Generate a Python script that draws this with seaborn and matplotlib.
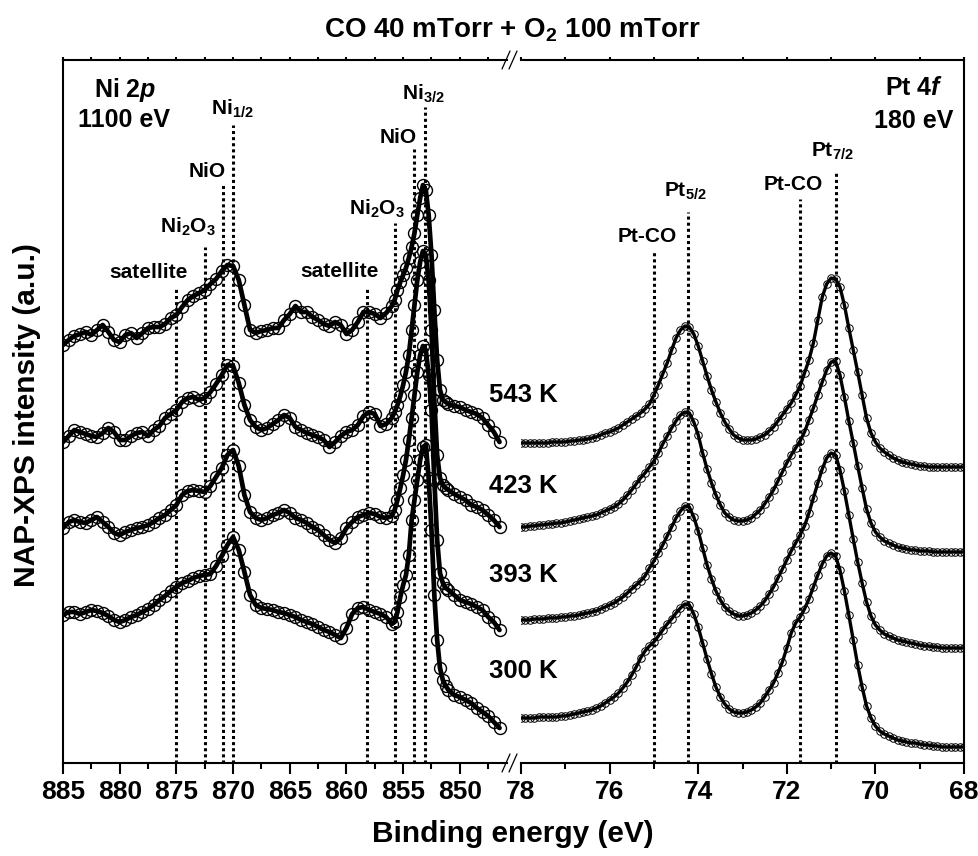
import numpy as np
import pandas as pd
import matplotlib
matplotlib.use("Agg")
import matplotlib.pyplot as plt
import seaborn as sns
from matplotlib.ticker import MultipleLocator
from matplotlib.lines import Line2D

# ---------------- data ----------------
temperatures = ["543 K", "423 K", "393 K", "300 K"]

# Ni 2p binding-energy grid (eV)
ni_energy = np.concatenate([
    np.arange(885.0, 855.9, -0.5),
    np.arange(855.75, 850.9, -0.25),
    np.arange(850.5, 846.4, -0.5),
])

ni_543 = [418, 423, 427, 429, 431, 428, 433, 438, 431, 423, 421, 428, 430, 425, 430, 435, 436, 436, 439, 445,
          448, 456, 463, 467, 470, 473, 479, 484, 492, 498, 497, 483, 458, 433, 430, 432, 433, 435, 435, 443,
          449, 457, 451, 451, 446, 443, 439, 437, 441, 438, 429, 433, 441, 451, 451, 449, 445, 450, 457,
          463, 473, 481, 488, 495, 505, 516, 530, 548, 565, 578, 573, 548, 508, 453, 403, 373, 363, 361, 359,
          357, 356, 353, 351, 349, 345, 338, 331, 321]
ni_423 = [321, 327, 333, 331, 329, 327, 326, 330, 335, 331, 323, 323, 327, 330, 331, 327, 333, 337, 345, 349,
          353, 361, 365, 366, 363, 365, 371, 379, 388, 398, 397, 380, 358, 343, 336, 333, 335, 339, 343, 348,
          345, 336, 333, 330, 328, 326, 323, 316, 321, 327, 331, 333, 338, 347, 351, 349, 337, 339, 345,
          351, 358, 367, 378, 391, 408, 433, 458, 483, 501, 512, 508, 483, 433, 363, 308, 285, 278, 275, 273,
          269, 266, 263, 258, 256, 253, 248, 243, 236]
ni_393 = [235, 241, 243, 241, 240, 243, 246, 241, 236, 230, 228, 231, 233, 235, 236, 238, 241, 245, 248, 253,
          258, 268, 272, 273, 272, 271, 277, 286, 295, 308, 313, 297, 268, 251, 245, 243, 245, 248, 250, 253,
          250, 245, 243, 240, 236, 233, 228, 223, 220, 225, 235, 241, 246, 248, 250, 249, 246, 245, 247,
          253, 263, 275, 288, 303, 323, 345, 368, 391, 408, 417, 413, 388, 353, 283, 223, 190, 180, 175, 173,
          168, 163, 161, 159, 156, 153, 146, 141, 133]
ni_300 = [148, 151, 151, 149, 151, 153, 152, 150, 147, 143, 141, 143, 146, 148, 151, 154, 158, 163, 167, 172,
          176, 180, 182, 185, 187, 188, 189, 197, 207, 218, 226, 213, 191, 168, 158, 155, 154, 153, 151, 150,
          148, 146, 143, 141, 139, 136, 133, 131, 128, 125, 135, 149, 155, 156, 153, 151, 149, 146, 139,
          141, 151, 166, 178, 188, 208, 243, 263, 283, 303, 316, 318, 285, 233, 168, 123, 95, 83, 77, 73,
          68, 66, 63, 60, 55, 51, 47, 41, 35]

# Pt 4f binding-energy grid (eV)
pt_energy = np.round(np.arange(78.0, 67.95, -0.1), 1)

pt_543 = [320, 320, 320, 320, 320, 320, 320, 321, 321, 321, 321,
          322, 322, 323, 323, 324, 325, 326, 328, 330, 331,
          333, 335, 338, 341, 344, 347, 350, 354, 359, 368,
          378, 389, 400, 413, 425, 433, 437, 436, 429, 417,
          402, 387, 373, 361, 350, 341, 334, 328, 325, 323,
          323, 323, 324, 326, 328, 332, 336, 342, 348, 354,
          360, 368, 377, 390, 403, 420, 443, 466, 479, 485,
          484, 476, 458, 435, 413, 391, 368, 345, 330, 321,
          315, 311, 308, 305, 303, 301, 300, 299, 298, 297,
          297, 296, 296, 296, 296, 296, 296, 296, 296, 296]
pt_423 = [236, 236, 237, 237, 238, 238, 239, 239, 240, 240, 241,
          242, 243, 244, 245, 246, 247, 248, 250, 252, 254,
          256, 259, 263, 268, 273, 279, 285, 290, 296, 302,
          310, 319, 327, 335, 342, 348, 351, 350, 341, 328,
          310, 294, 280, 268, 258, 250, 246, 243, 242, 242,
          243, 245, 249, 253, 259, 266, 273, 282, 291, 300,
          308, 315, 322, 331, 343, 355, 368, 381, 393, 401,
          402, 388, 366, 342, 320, 297, 275, 254, 240, 231,
          226, 222, 220, 218, 216, 215, 214, 213, 213, 212,
          212, 212, 211, 211, 211, 211, 211, 211, 211, 211]
pt_393 = [143, 143, 143, 144, 144, 144, 145, 145, 145, 146, 146,
          147, 147, 148, 149, 150, 151, 152, 154, 156, 158,
          160, 163, 166, 170, 174, 178, 182, 187, 195, 202,
          210, 218, 227, 236, 245, 252, 257, 256, 246, 232,
          215, 198, 184, 172, 163, 156, 152, 149, 147, 147,
          148, 150, 153, 157, 162, 169, 176, 185, 194, 203,
          212, 220, 228, 237, 250, 265, 280, 294, 305, 310,
          308, 293, 272, 248, 224, 201, 180, 161, 147, 138,
          133, 129, 127, 125, 123, 122, 121, 120, 119, 118,
          117, 117, 116, 116, 115, 115, 115, 115, 115, 115]
pt_300 = [45, 45, 45, 45, 46, 46, 46, 46, 46, 47, 47,
          48, 49, 50, 51, 52, 53, 55, 57, 60, 63,
          66, 70, 75, 81, 88, 96, 105, 112, 117, 121,
          127, 133, 139, 144, 150, 155, 159, 158, 149, 136,
          120, 104, 89, 76, 66, 59, 54, 51, 50, 50,
          51, 53, 56, 60, 66, 73, 80, 90, 101, 115,
          130, 140, 146, 154, 164, 176, 188, 199, 207, 210,
          207, 193, 172, 148, 123, 98, 76, 57, 45, 37,
          32, 29, 27, 25, 23, 22, 21, 20, 20, 19,
          18, 18, 17, 17, 16, 16, 16, 16, 16, 16]

# reference lines: energy, top of dotted line, label, label x, label baseline
ni_refs_energy = [875.0, 872.5, 870.9, 870.0, 858.2, 855.7, 854.0, 853.1]
ni_refs_top = [475, 516, 578, 638, 476, 540, 614, 656]
ni_labels = ["satellite", "Ni$_2$O$_3$", "NiO", "Ni$_{1/2}$",
             "satellite", "Ni$_2$O$_3$", "NiO", "Ni$_{3/2}$"]
ni_label_x = [877.5, 874.0, 872.25, 870.1, 860.6, 857.3, 855.4, 853.25]
ni_label_y = [485, 530, 586, 648, 486, 548, 620, 663]

pt_refs_energy = [75.0, 74.23, 71.7, 70.9]
pt_refs_top = [511, 551, 564, 591]
pt_labels = ["Pt-CO", "Pt$_{5/2}$", "Pt-CO", "Pt$_{7/2}$"]
pt_label_x = [75.16, 74.28, 71.86, 70.96]
pt_label_y = [521, 566, 573, 606]

temp_label_y = [361, 270, 181, 85]

ni_series = [ni_543, ni_423, ni_393, ni_300]
pt_series = [pt_543, pt_423, pt_393, pt_300]

# ---------------- style ----------------
sns.set_style("ticks")
plt.rcParams["font.family"] = ["Liberation Sans", "DejaVu Sans"]
plt.rcParams["font.weight"] = "bold"
plt.rcParams["mathtext.fontset"] = "custom"
plt.rcParams["mathtext.rm"] = "Liberation Sans:bold"
plt.rcParams["mathtext.bf"] = "Liberation Sans:bold"
plt.rcParams["mathtext.it"] = "Liberation Sans:italic:bold"
plt.rcParams["axes.linewidth"] = 1.5
plt.rcParams["text.color"] = "black"
plt.rcParams["axes.edgecolor"] = "black"
plt.rcParams["axes.labelcolor"] = "black"
plt.rcParams["xtick.color"] = "black"
plt.rcParams["ytick.color"] = "black"

W, H = 979, 856
fig = plt.figure(figsize=(W / 100, H / 100), dpi=100)
fig.patch.set_facecolor("white")

bot = (H - 763) / H
top = (H - 60) / H
ax1 = fig.add_axes([63 / W, bot, 444 / W, top - bot])
ax2 = fig.add_axes([521 / W, bot, 443 / W, top - bot])

for ax in (ax1, ax2):
    ax.set_facecolor("white")
    ax.set_ylim(0, 703)
    ax.set_yticks([])
    ax.tick_params(axis="x", which="major", direction="out", length=8, width=1.5,
                   labelsize=19, pad=4, top=True, colors="black")
    ax.tick_params(axis="x", which="minor", direction="out", length=4.3, width=1.5,
                   top=True, colors="black")
    ax.tick_params(axis="x", which="both", labeltop=False)
    for sp in ax.spines.values():
        sp.set_color("black")
        sp.set_linewidth(1.5)

ax1.set_xlim(885, 845.84)
ax2.set_xlim(78, 68)
ax1.xaxis.set_major_locator(MultipleLocator(5))
ax1.xaxis.set_minor_locator(MultipleLocator(2.5))
ax2.xaxis.set_major_locator(MultipleLocator(2))
ax2.xaxis.set_minor_locator(MultipleLocator(1))
ax1.spines["right"].set_visible(False)
ax2.spines["left"].set_visible(False)

# top ticks shorter
for ax in (ax1, ax2):
    for t in ax.xaxis.get_major_ticks() + ax.xaxis.get_minor_ticks():
        t.tick2line.set_markersize(2.5)

# ---------------- spectra ----------------
for vals in ni_series:
    df = pd.DataFrame({"energy": ni_energy, "intensity": vals})
    sns.lineplot(data=df, x="energy", y="intensity", ax=ax1, color="black",
                 linewidth=3.4, marker="o", markersize=8.6, markerfacecolor="none",
                 markeredgecolor="black", markeredgewidth=1.0, estimator=None,
                 sort=False, zorder=3)
for vals in pt_series:
    df = pd.DataFrame({"energy": pt_energy, "intensity": vals})
    sns.lineplot(data=df, x="energy", y="intensity", ax=ax2, color="black",
                 linewidth=2.4, marker="o", markersize=5.4, markerfacecolor="none",
                 markeredgecolor="black", markeredgewidth=0.7, estimator=None,
                 sort=False, zorder=3)

for ax in (ax1, ax2):
    ax.set_xlabel("")
    ax.set_ylabel("")
    ax.set_ylim(0, 703)
    for lab in ax.get_xticklabels():
        lab.set_fontweight("bold")
        lab.set_color("black")

# ---------------- reference lines and labels ----------------
for e, t, lab, lx, ly in zip(ni_refs_energy, ni_refs_top, ni_labels, ni_label_x, ni_label_y):
    ax1.plot([e, e], [0, t], color="black", linestyle=(0, (1, 1)), linewidth=2.2, zorder=2)
    ax1.text(lx, ly, lab, ha="center", va="baseline", fontsize=15, fontweight="bold",
             color="black")

for e, t, lab, lx, ly in zip(pt_refs_energy, pt_refs_top, pt_labels, pt_label_x, pt_label_y):
    ax2.plot([e, e], [0, t], color="black", linestyle=(0, (1, 1)), linewidth=2.2, zorder=2)
    ax2.text(lx, ly, lab, ha="center", va="baseline", fontsize=15, fontweight="bold",
             color="black")

ax1.text(879.5, 666, r"Ni 2$\mathit{p}$", ha="center", va="baseline", fontsize=18, fontweight="bold")
ax1.text(879.6, 636, "1100 eV", ha="center", va="baseline", fontsize=18, fontweight="bold")
ax2.text(69.13, 668, r"Pt 4$\mathit{f}$", ha="center", va="baseline", fontsize=18, fontweight="bold")
ax2.text(69.13, 635, "180 eV", ha="center", va="baseline", fontsize=18, fontweight="bold")

for lab, y in zip(temperatures, temp_label_y):
    ax2.text(78.72, y, lab, ha="left", va="baseline", fontsize=18.5, fontweight="bold",
             clip_on=False)

# ---------------- axis break marks ----------------
def slash(xc, yc):
    x0, x1 = (xc - 4) / W, (xc + 4) / W
    y0, y1 = (H - (yc + 9)) / H, (H - (yc - 9)) / H
    fig.add_artist(Line2D([x0, x1], [y0, y1], color="black", lw=0.9,
                          transform=fig.transFigure))

for yc in (60, 763):
    slash(506, yc)
    slash(513, yc)

# ---------------- titles ----------------
fig.text(512 / W, (H - 37) / H, "CO 40 mTorr + O$_2$ 100 mTorr", ha="center",
         va="baseline", fontsize=20, fontweight="bold")
fig.text(513 / W, (H - 842) / H, "Binding energy (eV)", ha="center", va="baseline",
         fontsize=21.5, fontweight="bold")
fig.text(27 / W, (H - 415) / H, "NAP-XPS intensity (a.u.)", ha="center", va="center",
         rotation=90, fontsize=21.5, fontweight="bold")

fig.savefig("out.png", dpi=100, facecolor="white")
